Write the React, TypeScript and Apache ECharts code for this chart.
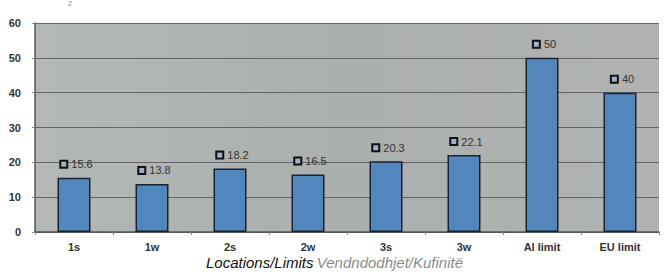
import React, { useEffect, useRef } from "react";
import * as echarts from "echarts";

const categories = ["1s", "1w", "2s", "2w", "3s", "3w", "Al limit", "EU limit"];
const values = [15.6, 13.8, 18.2, 16.5, 20.3, 22.1, 50, 40];
const yTicks = [0, 10, 20, 30, 40, 50, 60];

export default function App() {
  const ref = useRef<HTMLDivElement>(null);
  useEffect(() => {
    const chart = echarts.init(ref.current!, null, { renderer: "svg" });
    chart.setOption({
      animation: false,
      backgroundColor: "#ffffff",
      grid: {
        left: 35,
        right: 10,
        top: 23,
        bottom: 46,
        show: true,
        backgroundColor: {
          type: "linear",
          x: 0, y: 0, x2: 1, y2: 0,
          colorStops: [
            { offset: 0, color: "#b3b8b7" },
            { offset: 0.5, color: "#abafae" },
            { offset: 1, color: "#b0b3b2" },
          ],
        },
        borderWidth: 0,
      },
      xAxis: {
        type: "category",
        data: categories,
        axisLine: { lineStyle: { color: "#555", width: 1.5 } },
        axisTick: { show: true, length: 3, lineStyle: { color: "#888" } },
        axisLabel: {
          color: "#333",
          fontFamily: "Liberation Sans, Arial",
          fontWeight: "bold",
          fontSize: 11,
          margin: 9,
        },
      },
      yAxis: {
        type: "value",
        min: 0,
        max: 60,
        interval: 10,
        axisLine: { show: true, lineStyle: { color: "#555", width: 1.5 } },
        axisTick: { show: true, length: 3, lineStyle: { color: "#888" } },
        splitLine: { lineStyle: { color: "#626564", width: 1.2 } },
        axisLabel: {
          color: "#333",
          fontFamily: "Liberation Sans, Arial",
          fontWeight: "bold",
          fontSize: 11,
          margin: 14,
          formatter: (v: number) => (yTicks.includes(v) ? String(v) : ""),
        },
      },
      series: [
        {
          type: "bar",
          data: values,
          barWidth: 33,
          itemStyle: {
            color: "#5287bd",
            borderColor: "#1a2230",
            borderWidth: 1.5,
          },
          label: {
            show: true,
            position: "top",
            distance: 8,
            offset: [3, 0],
            formatter: (p: any) => "{sq|}{v| " + p.value + "}",
            rich: {
              sq: {
                width: 5,
                height: 5,
                borderColor: "#111",
                borderWidth: 2,
                backgroundColor: "#9fb3c8",
              },
              v: {
                color: "#333",
                fontFamily: "Liberation Sans, Arial",
                fontSize: 11,
                padding: [0, 0, 0, 2],
              },
            },
          },
        },
      ],
      graphic: [
        {
          type: "text",
          left: "center",
          top: 255,
          style: {
            text: "{a|Locations/Limits} {b|Vendndodhjet/Kufinitë}",
            rich: {
              a: {
                fontFamily: "Liberation Sans, Arial",
                fontStyle: "italic",
                fontSize: 15,
                fill: "#111",
              },
              b: {
                fontFamily: "Liberation Sans, Arial",
                fontStyle: "italic",
                fontSize: 15,
                fill: "#8a8a8a",
              },
            },
          },
        },
        {
          type: "text",
          left: 68,
          top: 0,
          style: {
            text: "2",
            fontFamily: "Liberation Sans, Arial",
            fontSize: 7,
            fill: "#888",
          },
        },
      ],
    });
    return () => chart.dispose();
  }, []);
  return <div ref={ref} style={{ width: 669, height: 278, position: "absolute", left: 0, top: 0 }} />;
}
